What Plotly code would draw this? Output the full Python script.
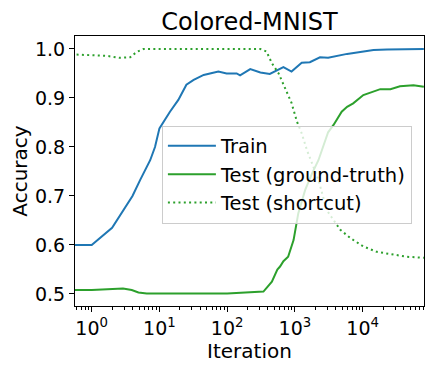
import numpy as np
import plotly.graph_objects as go

# iterations / accuracies
train_x = [0.5, 1, 2, 4, 5.2, 7.3, 8.6, 10, 14.3, 19, 25, 32, 45, 74, 98, 138, 155,
           219, 309, 426, 676, 891, 1259, 1660, 2344, 3090, 5890, 14450, 22900, 40000, 80000]
train_y = [0.600, 0.600, 0.635, 0.700, 0.733, 0.773, 0.800, 0.838, 0.872, 0.896, 0.927,
           0.937, 0.947, 0.954, 0.950, 0.950, 0.946, 0.959, 0.952, 0.949, 0.963, 0.954,
           0.972, 0.973, 0.983, 0.982, 0.990, 0.998, 0.999, 1.000, 1.000]

gt_x = [0.5, 1, 2.9, 3.9, 4.9, 6.5, 10, 100, 343, 457, 550, 603, 676, 794, 955, 1122,
        1413, 1778, 2223, 2630, 3090, 3715, 4900, 5890, 7245, 10230, 18200, 25700,
        35500, 56200, 80000]
gt_y = [0.508, 0.508, 0.511, 0.508, 0.503, 0.501, 0.501, 0.501, 0.505, 0.525, 0.550,
        0.556, 0.567, 0.576, 0.610, 0.665, 0.712, 0.745, 0.773, 0.800, 0.830, 0.845,
        0.872, 0.882, 0.889, 0.906, 0.918, 0.918, 0.924, 0.926, 0.923]

sc_x = [0.5, 1, 1.66, 2.6, 3.7, 4.6, 5.8, 10, 100, 309, 380, 457, 575, 760, 891, 1070,
        1259, 1500, 1862, 2223, 2950, 3715, 4680, 6600, 10230, 16200, 28800, 44700, 80000]
sc_y = [0.989, 0.988, 0.986, 0.982, 0.983, 0.994, 1.000, 1.000, 1.000, 1.000, 0.995,
        0.971, 0.950, 0.910, 0.890, 0.852, 0.828, 0.794, 0.760, 0.733, 0.671, 0.651,
        0.631, 0.614, 0.597, 0.586, 0.580, 0.576, 0.574]

y_ticks = [0.5, 0.6, 0.7, 0.8, 0.9, 1.0]
x_ticks = [1, 10, 100, 1000, 10000]
x_ticktext = ["10<sup>%d</sup>" % i for i in range(5)]

BLUE = "#1f77b4"
GREEN = "#2ca02c"
FONT = "DejaVu Sans"

fig = go.Figure()
fig.add_trace(go.Scatter(x=train_x, y=train_y, mode="lines", name="Train",
                         line=dict(color=BLUE, width=2)))
fig.add_trace(go.Scatter(x=gt_x, y=gt_y, mode="lines", name="Test (ground-truth)",
                         line=dict(color=GREEN, width=2)))
fig.add_trace(go.Scatter(x=sc_x, y=sc_y, mode="lines", name="Test (shortcut)",
                         line=dict(color=GREEN, width=2, dash="2px,3.3px")))

minor_vals = [m * 10 ** k for k in range(-1, 5) for m in range(2, 10)]

# page body adds an 8px offset, so the figure is drawn 8px smaller
fig.update_layout(
    width=426, height=364,
    margin=dict(l=67, r=10, t=28, b=66),
    paper_bgcolor="white", plot_bgcolor="white",
    font=dict(family=FONT, size=19, color="black"),
    title=dict(text="Colored-MNIST", x=0.5, xref="paper", xanchor="center",
               y=1, yref="paper", yanchor="bottom", pad=dict(b=6),
               font=dict(size=24)),
    showlegend=True,
    legend=dict(x=0.249, y=0.668, xanchor="left", yanchor="top", itemwidth=48,
                bgcolor="rgba(255,255,255,0.8)", bordercolor="#cccccc", borderwidth=1,
                font=dict(size=19.5)),
)
fig.update_xaxes(
    type="log", range=[np.log10(0.567), np.log10(80400)],
    tickvals=x_ticks, ticktext=x_ticktext,
    ticks="outside", ticklen=5, tickwidth=1, tickcolor="black",
    minor=dict(tickvals=minor_vals, ticks="outside", ticklen=3, tickwidth=1,
               tickcolor="black", showgrid=False),
    showline=True, linecolor="black", linewidth=1, mirror=True,
    showgrid=False, zeroline=False, automargin=False,
    title=dict(text="Iteration", font=dict(size=20), standoff=4),
)
fig.update_yaxes(
    range=[0.4755, 1.0265], tickvals=y_ticks, tickformat=".1f",
    ticks="outside", ticklen=5, tickwidth=1, tickcolor="black",
    showline=True, linecolor="black", linewidth=1, mirror=True,
    showgrid=False, zeroline=False, automargin=False,
    title=dict(text="Accuracy", font=dict(size=20), standoff=6),
)

fig.write_html("out.html")
